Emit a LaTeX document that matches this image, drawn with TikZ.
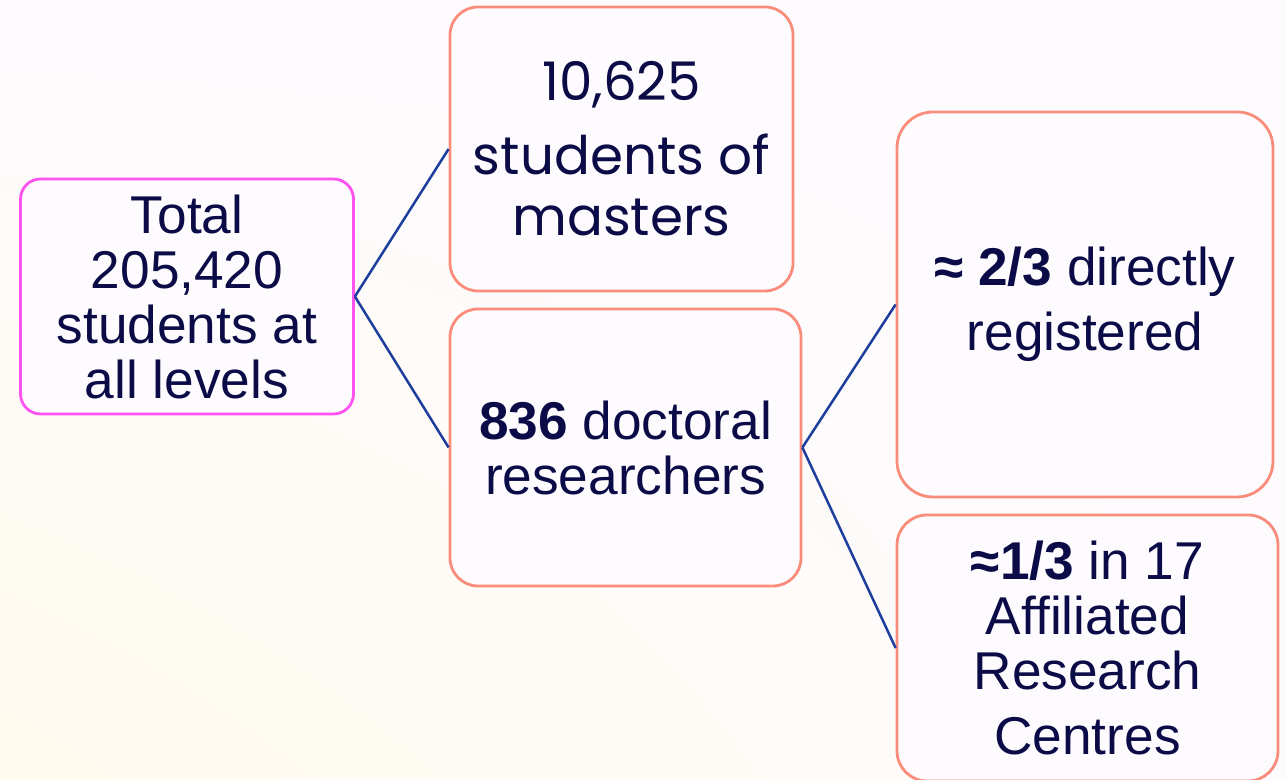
\documentclass[tikz,border=0pt]{standalone}
\usepackage{fontspec}
\setmainfont{Liberation Sans}
\newfontfamily\poppins{Poppins}
\usetikzlibrary{shadings}

\definecolor{ink}{HTML}{0B0B48}
\definecolor{salmon}{HTML}{FA8C7B}
\definecolor{pinkline}{HTML}{FF52F0}
\definecolor{linkblue}{HTML}{1E3E9E}
\definecolor{boxfill}{HTML}{FDFBFD}
\definecolor{bgcream}{HTML}{FFFBEE}
\definecolor{bgwhite}{HTML}{FDFBFE}

\begin{document}
\begin{tikzpicture}[x=0.5pt,y=0.5pt,
    box/.style={draw=salmon, line width=1.4pt, fill=boxfill, text=ink,
      align=center, inner sep=0pt, font=\fontsize{26.6}{27.5}\selectfont},
    link/.style={draw=linkblue, line width=1.25pt}]
      % Background
      \shade[lower left=bgcream, upper left=bgwhite, lower right=bgwhite, upper right=bgwhite]
        (0,0) rectangle (1286,780);
      \useasboundingbox (0,0) rectangle (1286,780);

      % Boxes
      \node[box, draw=pinkline, minimum width=166.5pt, minimum height=117.5pt,
        rounded corners=10pt] (total) at (187,483.5)
        {Total\\205,420\\students at\\all levels};
      \node[box, minimum width=171.5pt, minimum height=142pt, rounded corners=14pt,
        font=\poppins\fontsize{26.6}{30.5}\selectfont] (masters) at (621.5,631)
        {10,625\\[6.5pt]students of\\masters};
      \node[box, minimum width=175.5pt, minimum height=138.5pt, rounded corners=14pt]
        (doctoral) at (625.5,332.5)
        {\textbf{836} doctoral\\researchers};
      \node[box, minimum width=188pt, minimum height=192.5pt, rounded corners=18pt]
        (direct) at (1085,475.5)
        {\textbf{≈ 2/3} directly\\[5pt]registered};
      \node[box, minimum width=190.5pt, minimum height=133pt, rounded corners=15pt]
        (affil) at (1087.5,132)
        {\textbf{≈1/3} in 17\\Affiliated\\Research\\[5pt]Centres};

      % Links
      \draw[link] (total.east) -- (masters.west);
      \draw[link] (total.east) -- (doctoral.west);
      \draw[link] (doctoral.east) -- (direct.west);
      \draw[link] (doctoral.east) -- (affil.west);
    \end{tikzpicture}
\end{document}
